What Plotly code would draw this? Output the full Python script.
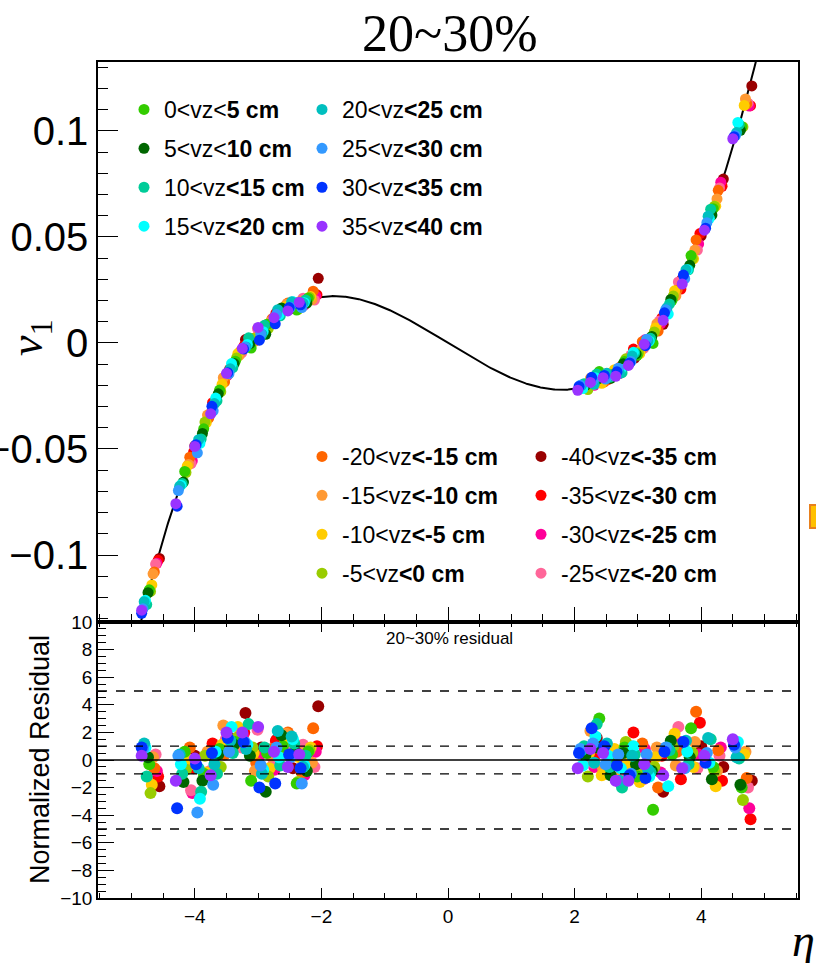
import numpy as np
import plotly.graph_objects as go

# ---------------- data ----------------
LABELS = [
    "-40&lt;vz<b>&lt;-35 cm</b>", "-35&lt;vz<b>&lt;-30 cm</b>", "-30&lt;vz<b>&lt;-25 cm</b>", "-25&lt;vz<b>&lt;-20 cm</b>",
    "-20&lt;vz<b>&lt;-15 cm</b>", "-15&lt;vz<b>&lt;-10 cm</b>", "-10&lt;vz<b>&lt;-5 cm</b>", "-5&lt;vz<b>&lt;0 cm</b>",
    "0&lt;vz&lt;<b>5 cm</b>", "5&lt;vz&lt;<b>10 cm</b>", "10&lt;vz<b>&lt;15 cm</b>", "15&lt;vz<b>&lt;20 cm</b>",
    "20&lt;vz<b>&lt;25 cm</b>", "25&lt;vz<b>&lt;30 cm</b>", "30&lt;vz<b>&lt;35 cm</b>", "35&lt;vz<b>&lt;40 cm</b>",
]
COLORS = [
    "#990000", "#ff0000", "#ff0099", "#ff6699",
    "#ff6600", "#ff9933", "#ffcc00", "#99cc00",
    "#33cc00", "#006600", "#00cc99", "#00ffff",
    "#00bfbf", "#3399ff", "#0033ff", "#9933ff",
]
LEGEND_OF = ["legend4"] * 4 + ["legend3"] * 4 + ["legend"] * 4 + ["legend2"] * 4

ETA = [
    [-4.56, -4.00, -3.70, -3.45, -3.20, -2.95, -2.70, -2.45, -2.23, -2.05, 2.35, 2.55, 2.75, 2.95, 3.15, 3.40, 3.70, 4.00, 4.35, 4.80],
    [-4.58, -4.02, -3.72, -3.47, -3.22, -2.97, -2.72, -2.47, -2.25, -2.07, 2.33, 2.53, 2.73, 2.93, 3.13, 3.38, 3.68, 3.98, 4.33, 4.78],
    [-4.60, -4.04, -3.74, -3.49, -3.24, -2.99, -2.74, -2.49, -2.27, -2.09, 2.31, 2.51, 2.71, 2.91, 3.11, 3.36, 3.66, 3.96, 4.31, 4.76],
    [-4.62, -4.06, -3.76, -3.51, -3.26, -3.01, -2.76, -2.51, -2.29, -2.11, 2.29, 2.49, 2.69, 2.89, 3.09, 3.34, 3.64, 3.94, 4.29, 4.74],
    [-4.64, -4.08, -3.78, -3.53, -3.28, -3.03, -2.78, -2.53, -2.31, -2.13, 2.27, 2.47, 2.67, 2.87, 3.07, 3.32, 3.62, 3.92, 4.27, 4.72],
    [-4.66, -4.10, -3.80, -3.55, -3.30, -3.05, -2.80, -2.55, -2.33, -2.15, 2.25, 2.45, 2.65, 2.85, 3.05, 3.30, 3.60, 3.90, 4.25, 4.70],
    [-4.68, -4.12, -3.82, -3.57, -3.32, -3.07, -2.82, -2.57, -2.35, -2.17, 2.23, 2.43, 2.63, 2.83, 3.03, 3.28, 3.58, 3.88, 4.23, 4.68],
    [-4.70, -4.14, -3.84, -3.59, -3.34, -3.09, -2.84, -2.59, -2.37, -2.19, 2.21, 2.41, 2.61, 2.81, 3.01, 3.26, 3.56, 3.86, 4.21, 4.66],
    [-4.72, -4.16, -3.86, -3.61, -3.36, -3.11, -2.86, -2.61, -2.39, -2.21, 2.19, 2.39, 2.59, 2.79, 2.99, 3.24, 3.54, 3.84, 4.19, 4.64],
    [-4.74, -4.18, -3.88, -3.63, -3.38, -3.13, -2.88, -2.63, -2.41, -2.23, 2.17, 2.37, 2.57, 2.77, 2.97, 3.22, 3.52, 3.82, 4.17, 4.62],
    [-4.76, -4.20, -3.90, -3.65, -3.40, -3.15, -2.90, -2.65, -2.43, -2.25, 2.15, 2.35, 2.55, 2.75, 2.95, 3.20, 3.50, 3.80, 4.15, 4.60],
    [-4.78, -4.22, -3.92, -3.67, -3.42, -3.17, -2.92, -2.67, -2.45, -2.27, 2.13, 2.33, 2.53, 2.73, 2.93, 3.18, 3.48, 3.78, 4.13, 4.58],
    [-4.80, -4.24, -3.94, -3.69, -3.44, -3.19, -2.94, -2.69, -2.47, -2.29, 2.11, 2.31, 2.51, 2.71, 2.91, 3.16, 3.46, 3.76, 4.11, 4.56],
    [-4.82, -4.26, -3.96, -3.71, -3.46, -3.21, -2.96, -2.71, -2.49, -2.31, 2.09, 2.29, 2.49, 2.69, 2.89, 3.14, 3.44, 3.74, 4.09, 4.54],
    [-4.84, -4.28, -3.98, -3.73, -3.48, -3.23, -2.98, -2.73, -2.51, -2.33, 2.07, 2.27, 2.47, 2.67, 2.87, 3.12, 3.42, 3.72, 4.07, 4.52],
    [-4.84, -4.30, -4.00, -3.75, -3.50, -3.25, -3.00, -2.75, -2.53, -2.35, 2.05, 2.25, 2.45, 2.65, 2.85, 3.10, 3.40, 3.70, 4.05, 4.50],
]
V1 = [
    [-0.1016, -0.0485, -0.0284, -0.0124, 0.0016, 0.0067, 0.0146, 0.0162, 0.0206, 0.0305, -0.0162, -0.0151, -0.0122, -0.0071, 0.0012, 0.0088, 0.0302, 0.0505, 0.0773, 0.1212],
    [-0.1025, -0.0515, -0.0282, -0.0146, -0.0013, 0.0041, 0.0139, 0.0177, 0.0193, 0.0227, -0.0183, -0.0172, -0.0112, -0.0029, 0.0001, 0.0118, 0.0254, 0.0516, 0.0739, 0.1119],
    [-0.1039, -0.0556, -0.0327, -0.0154, -0.0025, 0.0043, 0.0102, 0.0183, 0.0179, 0.0221, -0.0200, -0.0144, -0.0144, -0.0055, 0.0015, 0.0090, 0.0284, 0.0467, 0.0758, 0.1117],
    [-0.1043, -0.0569, -0.0336, -0.0157, -0.0047, 0.0068, 0.0102, 0.0172, 0.0211, 0.0202, -0.0197, -0.0156, -0.0143, -0.0057, -0.0026, 0.0103, 0.0288, 0.0438, 0.0731, 0.1131],
    [-0.1080, -0.0539, -0.0354, -0.0184, -0.0040, 0.0025, 0.0114, 0.0188, 0.0179, 0.0244, -0.0183, -0.0183, -0.0125, -0.0088, 0.0006, 0.0056, 0.0249, 0.0486, 0.0720, 0.1127],
    [-0.1089, -0.0573, -0.0340, -0.0164, -0.0059, 0.0009, 0.0102, 0.0183, 0.0197, 0.0204, -0.0167, -0.0180, -0.0154, -0.0080, -0.0034, 0.0091, 0.0222, 0.0438, 0.0679, 0.1151],
    [-0.1141, -0.0581, -0.0377, -0.0195, -0.0050, 0.0022, 0.0082, 0.0171, 0.0189, 0.0219, -0.0193, -0.0190, -0.0126, -0.0094, -0.0050, 0.0071, 0.0246, 0.0397, 0.0645, 0.1120],
    [-0.1172, -0.0611, -0.0373, -0.0230, -0.0071, 0.0021, 0.0068, 0.0153, 0.0159, 0.0215, -0.0220, -0.0165, -0.0149, -0.0075, -0.0047, 0.0052, 0.0222, 0.0398, 0.0645, 0.1019],
    [-0.1164, -0.0606, -0.0405, -0.0222, -0.0086, -0.0024, 0.0088, 0.0158, 0.0155, 0.0211, -0.0195, -0.0135, -0.0150, -0.0087, -0.0058, -0.0002, 0.0201, 0.0412, 0.0633, 0.1020],
    [-0.1178, -0.0656, -0.0427, -0.0240, -0.0097, -0.0003, 0.0041, 0.0165, 0.0186, 0.0188, -0.0200, -0.0169, -0.0167, -0.0098, -0.0052, 0.0031, 0.0205, 0.0366, 0.0603, 0.1003],
    [-0.1234, -0.0663, -0.0453, -0.0273, -0.0116, 0.0024, 0.0083, 0.0128, 0.0192, 0.0203, -0.0192, -0.0147, -0.0162, -0.0140, -0.0047, 0.0022, 0.0184, 0.0345, 0.0631, 0.1030],
    [-0.1214, -0.0671, -0.0474, -0.0260, -0.0097, -0.0007, 0.0053, 0.0133, 0.0194, 0.0190, -0.0215, -0.0164, -0.0154, -0.0124, -0.0044, 0.0009, 0.0136, 0.0345, 0.0588, 0.1040],
    [-0.1220, -0.0676, -0.0456, -0.0286, -0.0122, -0.0019, 0.0041, 0.0157, 0.0194, 0.0187, -0.0200, -0.0195, -0.0143, -0.0143, -0.0062, 0.0009, 0.0166, 0.0345, 0.0598, 0.0992],
    [-0.1254, -0.0696, -0.0518, -0.0320, -0.0144, -0.0019, 0.0044, 0.0134, 0.0168, 0.0167, -0.0200, -0.0176, -0.0170, -0.0119, -0.0087, 0.0018, 0.0157, 0.0303, 0.0567, 0.0978],
    [-0.1275, -0.0770, -0.0480, -0.0299, -0.0140, -0.0029, 0.0013, 0.0090, 0.0167, 0.0180, -0.0205, -0.0162, -0.0153, -0.0136, -0.0094, -0.0013, 0.0142, 0.0320, 0.0541, 0.0973],
    [-0.1260, -0.0758, -0.0488, -0.0334, -0.0143, -0.0026, 0.0073, 0.0119, 0.0151, 0.0192, -0.0223, -0.0186, -0.0164, -0.0157, -0.0106, -0.0006, 0.0107, 0.0278, 0.0532, 0.0963],
]
RES = [
    [-1.9, 0.3, 0.2, 1.6, 3.4, 0.9, 1.5, -0.6, 0.4, 3.9, 1.6, 0.2, -0.8, -1.2, -0.4, -2.3, 1.0, 1.0, -0.5, -1.5],
    [-1.2, -0.6, 1.2, 0.8, 2.0, -0.4, 1.4, 0.6, -0.3, 1.0, 0.4, -0.9, 0.2, 2.0, -0.6, 0.3, -1.4, 2.7, -1.5, -4.3],
    [-0.8, -2.4, -1.0, 0.9, 1.8, 0.2, -0.7, 1.2, -1.1, 0.6, -0.5, 1.1, -1.6, 0.7, 0.8, -0.9, 1.3, 0.4, 0.9, -3.5],
    [0.4, -2.2, -0.8, 1.5, 0.9, 2.2, -0.3, 0.7, 1.1, -0.5, -0.2, 0.6, -1.2, 1.0, -1.4, 0.5, 2.4, -0.6, 0.3, -2.0],
    [-0.6, 0.9, -1.1, 0.4, 1.9, -0.2, 0.8, 2.0, -0.9, 2.3, 0.9, -1.0, 0.3, -0.7, 1.2, -2.0, 0.6, 3.5, 0.7, -1.3],
    [0.2, -0.4, 0.6, 2.5, 1.2, -0.8, 0.3, 1.9, 0.5, -0.2, 2.1, -0.6, -1.3, 0.2, -1.0, 0.9, -0.4, 1.3, -0.8, 0.6],
    [-1.8, 0.1, -0.9, 1.1, 2.4, 0.5, -0.6, 1.4, 0.2, 0.9, 0.5, -1.1, 0.8, -0.3, -1.6, 0.2, 1.9, -0.5, -1.9, 0.4],
    [-2.4, -0.7, 0.3, -0.5, 1.6, 0.9, -1.2, 0.4, -1.6, 0.7, -1.2, 0.8, -0.4, 1.3, -0.9, -0.5, 1.0, 0.5, -0.8, -2.9],
    [-0.3, 0.6, -1.0, 0.8, 1.3, -1.5, 0.5, 1.0, -1.7, 0.6, 0.6, 3.0, -0.2, 0.9, -1.2, -3.6, 0.4, 2.3, -0.5, -2.0],
    [0.2, -1.6, -1.5, 0.4, 1.1, 0.3, -2.3, 1.8, 0.6, -0.8, 0.3, 0.9, -1.1, 0.5, -0.3, -0.8, 1.4, 0.2, -1.4, -1.8],
    [-1.2, -1.0, -2.3, -1.0, 0.5, 2.6, 0.9, -0.4, 1.2, 0.3, 1.0, 2.6, -0.5, -2.0, 0.4, -0.9, 0.7, -0.3, 1.5, 0.1],
    [0.9, -0.3, -2.8, 0.6, 2.4, 1.1, -0.7, 0.2, 1.5, -0.4, -0.4, 1.7, 0.3, -0.6, 1.0, -1.2, -1.9, 0.6, -0.2, 1.3],
    [1.2, 0.4, -0.6, -0.3, 1.4, 0.8, -1.0, 2.1, 1.7, -0.5, 0.7, -0.2, 1.2, -1.5, 0.3, -0.7, 0.9, 1.4, 1.6, 0.2],
    [0.8, 0.3, -3.8, -1.8, 0.6, 1.3, -0.4, 0.9, 0.2, -1.7, 0.8, 1.2, -0.3, 0.4, -1.0, 0.4, 0.9, -0.6, 0.5, 0.9],
    [0.9, -3.5, -0.3, 0.5, 1.6, 1.3, -2.0, -1.7, 0.4, -0.6, 0.5, 2.3, 1.0, -0.4, -1.1, -1.3, 0.6, 1.3, -0.2, 1.1],
    [0.3, -1.5, 0.1, -1.1, 2.0, 2.0, 2.4, 0.6, -0.5, 0.4, -0.6, 0.8, 0.5, -1.5, -1.5, -0.3, -1.1, -0.6, 0.3, 1.5],
]

# fit function v1(eta) = p1*eta + p3*eta^3 + p5*eta^5
FIT_PARAMS = [-0.018395, 0.0018814, 2.051e-6]

TITLE = "20~30%"
RESID_TITLE = "20~30% residual"
V1_TICKS = [-0.1, -0.05, 0, 0.05, 0.1]
V1_TICKTEXT = ["\u22120.1", "\u22120.05", "0", "0.05", "0.1"]
RES_TICKS = [-10, -8, -6, -4, -2, 0, 2, 4, 6, 8, 10]
RES_TICKTEXT = ["\u221210", "\u22128", "\u22126", "\u22124", "\u22122", "0", "2", "4", "6", "8", "10"]
ETA_TICKS = [-4, -2, 0, 2, 4]
ETA_TICKTEXT = ["\u22124", "\u22122", "0", "2", "4"]
RES_LINES_DASHED = [5, 1, -1, -5]

# ---------------- figure ----------------
W, H = 816, 963
ML, MT = 98, 62
MR = W - 798
MB = H - 898
PW, PH = W - ML - MR, H - MT - MB
SPLIT = (898 - 622) / PH


def px(s):
    return (s - ML) / PW


def py(s):
    return (H - MB - s) / PH


SANS = "Liberation Sans, Arial, sans-serif"
SERIF = "Liberation Serif, Times New Roman, serif"

fig = go.Figure()

xc = np.linspace(-5.6, 5.6, 800)
p1, p3, p5 = FIT_PARAMS
yc = p1 * xc + p3 * xc ** 3 + p5 * xc ** 5
fig.add_trace(go.Scatter(x=xc, y=yc, mode="lines", line=dict(color="black", width=2),
                         showlegend=False, hoverinfo="skip", xaxis="x", yaxis="y"))

for i in range(len(LABELS)):
    fig.add_trace(go.Scatter(
        x=ETA[i], y=V1[i], mode="markers", name=LABELS[i],
        marker=dict(color=COLORS[i], size=11, line=dict(width=0)),
        legend=LEGEND_OF[i], legendgroup=f"g{i}", xaxis="x", yaxis="y"))
for i in range(len(LABELS)):
    fig.add_trace(go.Scatter(
        x=ETA[i], y=RES[i], mode="markers", showlegend=False,
        marker=dict(color=COLORS[i], size=12, line=dict(width=0)),
        legendgroup=f"g{i}", xaxis="x2", yaxis="y2"))

XR = [-5.53, 5.53]
axis_common = dict(showline=True, linecolor="black", linewidth=1.5, mirror=True,
                   showgrid=False, zeroline=False, ticks="inside", tickcolor="black",
                   automargin=False)

legend_common = dict(bgcolor="rgba(0,0,0,0)", borderwidth=0, font=dict(family=SANS, size=23, color="black"),
                     tracegroupgap=6, itemwidth=30, xanchor="left", yanchor="top", orientation="v")

fig.update_layout(
    template="none",
    width=W, height=H,
    margin=dict(l=ML, r=MR, t=MT, b=MB),
    paper_bgcolor="white", plot_bgcolor="white",
    xaxis=dict(domain=[0, 1], anchor="y", range=XR, showticklabels=False,
               tick0=0, dtick=2, ticklen=15,
               minor=dict(ticks="inside", dtick=0.5, ticklen=8, tickcolor="black"),
               **axis_common),
    yaxis=dict(domain=[SPLIT, 1], anchor="x", range=[-0.1316, 0.1325],
               tickvals=V1_TICKS, ticktext=V1_TICKTEXT, ticklen=20,
               tickfont=dict(family=SANS, size=40, color="black"),
               minor=dict(ticks="inside", dtick=0.01, ticklen=10, tickcolor="black"),
               **axis_common),
    xaxis2=dict(domain=[0, 1], anchor="y2", range=XR,
                tickvals=ETA_TICKS, ticktext=ETA_TICKTEXT, ticklen=10,
                tickfont=dict(family=SANS, size=19, color="black"),
                minor=dict(ticks="inside", dtick=0.5, ticklen=5, tickcolor="black"),
                **{**axis_common, "mirror": "ticks"}),
    yaxis2=dict(domain=[0, SPLIT], anchor="x2", range=[-10, 10],
                tickvals=RES_TICKS, ticktext=RES_TICKTEXT, ticklen=16,
                tickfont=dict(family=SANS, size=19, color="black"),
                minor=dict(ticks="inside", dtick=0.5, ticklen=8, tickcolor="black"),
                **axis_common),
    legend=dict(x=px(124), y=py(88), **legend_common),
    legend2=dict(x=px(302), y=py(88), **legend_common),
    legend3=dict(x=px(302), y=py(435), **legend_common),
    legend4=dict(x=px(521), y=py(435), **legend_common),
    showlegend=True,
)

for yv in RES_LINES_DASHED:
    fig.add_shape(type="line", xref="x2 domain", x0=0, x1=1, yref="y2", y0=yv, y1=yv,
                  line=dict(color="black", width=1.3, dash="dash"))
fig.add_shape(type="line", xref="x2 domain", x0=0, x1=1, yref="y2", y0=0, y1=0,
              line=dict(color="black", width=1.3))

# partially visible box at the right edge
fig.add_shape(type="rect", xref="paper", yref="paper", x0=px(810), x1=px(830), y0=py(528), y1=py(505),
              line=dict(color="#e8801e", width=2), fillcolor="#ffc000")

ann = [
    dict(text=TITLE, x=px(449), y=py(34), font=dict(family=SERIF, size=52, color="black")),
    dict(text="<i>v</i><sub>1</sub>", x=px(30), y=py(338), textangle=-90,
         font=dict(family=SERIF, size=46, color="black")),
    dict(text="<i>\u03b7</i>", x=px(803), y=py(940), font=dict(family=SERIF, size=46, color="black")),
    dict(text="Normalized Residual", x=px(40), y=py(760), textangle=-90,
         font=dict(family=SANS, size=27, color="black")),
    dict(text=RESID_TITLE, x=px(449), y=py(638), font=dict(family=SANS, size=17, color="black")),
]
for a in ann:
    fig.add_annotation(xref="paper", yref="paper", showarrow=False, xanchor="center", yanchor="middle", **a)

# remove the default 8 px page margin so the figure fills the window exactly
fig.write_html("out.html",
               config={"displayModeBar": False},
               post_script="document.body.style.margin='0px';document.body.style.overflow='hidden';")
